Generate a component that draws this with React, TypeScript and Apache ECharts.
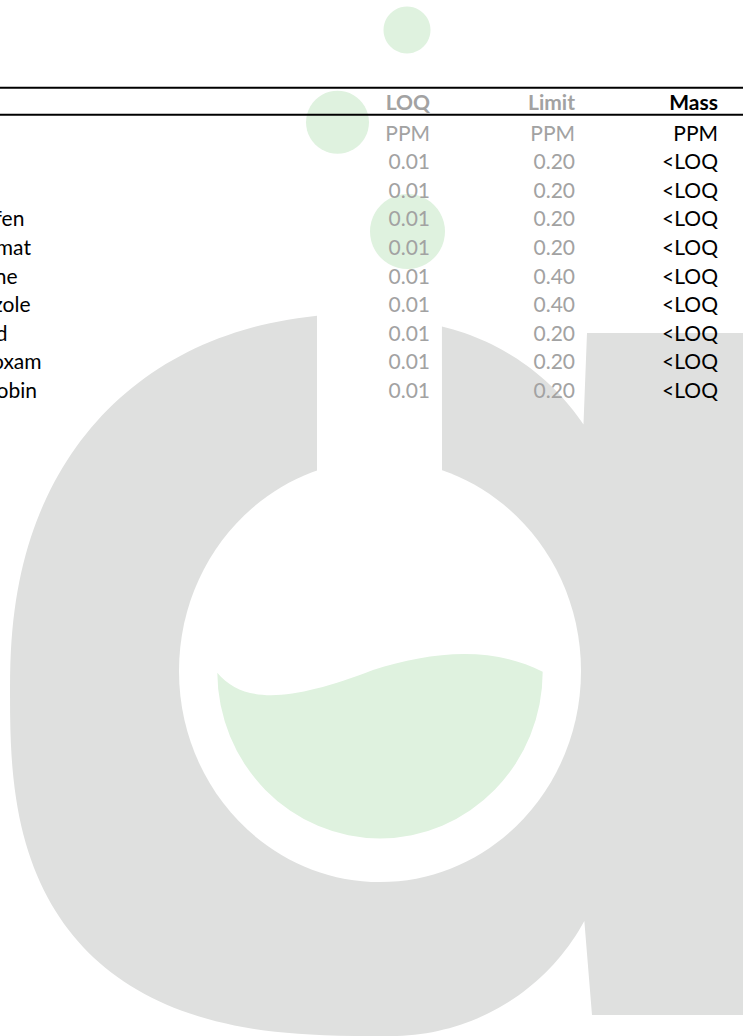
import React, { useEffect, useRef } from "react";
import * as echarts from "echarts";

// ---- table data ----
const headers = ["LOQ", "Limit", "Mass"];
const units = ["PPM", "PPM", "PPM"];
const analytes = [
  "Pyridaben",
  "Spinosad",
  "Spiromesifen",
  "Spirotetramat",
  "Spiroxamine",
  "Tebuconazole",
  "Thiacloprid",
  "Thiamethoxam",
  "Trifloxystrobin",
];
const loqValues = [0.01, 0.01, 0.01, 0.01, 0.01, 0.01, 0.01, 0.01, 0.01];
const limitValues = [0.2, 0.2, 0.2, 0.2, 0.4, 0.4, 0.2, 0.2, 0.2];
const massValues = ["<LOQ", "<LOQ", "<LOQ", "<LOQ", "<LOQ", "<LOQ", "<LOQ", "<LOQ", "<LOQ"];

const rowKeys = ["units", ...analytes];

const GRAY = "#dfe0df";
const GREEN = "#dff2df";
const TEXT_GRAY = "#a2a2a2";
const FONT = "Lato, 'Noto Sans', sans-serif";
const FS = 21;

const LIQUID_D =
  "M217.3 672.7 C245 706 295 700 373 670 C430 652 490 645 542.7 671.7 A163 167 0 0 1 380 838.5 A163 167 0 0 1 217.3 672.7 Z";

function logoOutline(): number[][] {
  const pts: number[][] = [];
  const cx = 380, cy = 690, rx = 370, ryTop = 377, ryBot = 346, nTop = 2.3, nBot = 2.7;
  const t0 = Math.acos(Math.pow(63 / rx, nTop / 2));
  const N = 60;
  for (let k = 0; k <= N; k++) {
    const t = t0 * (1 - k / N);
    pts.push([
      cx - rx * Math.pow(Math.cos(t), 2 / nTop),
      cy - ryTop * Math.pow(Math.sin(t), 2 / nTop),
    ]);
  }
  for (let k = 1; k <= N; k++) {
    const t = (Math.PI / 2) * (k / N);
    pts.push([
      cx - rx * Math.pow(Math.cos(t), 2 / nBot),
      cy + ryBot * Math.pow(Math.sin(t), 2 / nBot),
    ]);
  }
  // bottom-right arc up to the stem
  for (let k = 0; k <= 40; k++) {
    const a = ((90 - (90 - 28.5) * (k / 40)) * Math.PI) / 180;
    pts.push([391 + 220 * Math.cos(a), 816 + 220 * Math.sin(a)]);
  }
  pts.push([592, 1015]);
  pts.push([743, 1015]);
  pts.push([743, 333]);
  pts.push([587, 333]);
  // top-right shoulder arc
  for (let k = 0; k <= 30; k++) {
    const a = ((-34 - (76.6 - 34) * (k / 30)) * Math.PI) / 180;
    pts.push([387 + 237 * Math.cos(a), 557 + 237 * Math.sin(a)]);
  }
  pts.push([442, 480]);
  pts.push([317, 480]);
  return pts;
}

export default function App() {
  const ref = useRef<HTMLDivElement>(null);

  useEffect(() => {
    document.body.style.margin = "0";
    document.body.style.overflow = "hidden";
    if (!ref.current) return;
    echarts.graphic.registerShape("liquid", echarts.graphic.extendPath(LIQUID_D, {}));
    const chart = echarts.init(ref.current, null, { renderer: "svg" });

    const txt = (text: string, x: number, y: number, align: string, fill: string, weight = "normal") => ({
      type: "text",
      x,
      y,
      style: {
        text,
        align,
        textAlign: align,
        verticalAlign: "middle",
        textVerticalAlign: "middle",
        fill,
        fontSize: FS,
        fontFamily: FONT,
        fontWeight: weight,
      },
    });

    const colX = [430, 575, 718];
    const nameX = -95;

    chart.setOption({
      animation: false,
      backgroundColor: "#ffffff",
      grid: { left: 0, right: 0, top: 117.7, height: 286, containLabel: false },
      xAxis: { type: "value", min: 0, max: 743, show: false },
      yAxis: { type: "category", data: rowKeys, inverse: true, show: false },
      graphic: [
        { type: "polygon", z: 0, shape: { points: logoOutline() }, style: { fill: GRAY } },
        { type: "ellipse", z: 1, shape: { cx: 380, cy: 671, rx: 201, ry: 211 }, style: { fill: "#ffffff" } },
        { type: "liquid", z: 2, x: 0, y: 0, scaleX: 1, scaleY: 1, style: { fill: GREEN } },
        { type: "circle", z: 2, shape: { cx: 407, cy: 30, r: 23.5 }, style: { fill: GREEN } },
        { type: "circle", z: 2, shape: { cx: 337.5, cy: 122.3, r: 31.5 }, style: { fill: GREEN } },
        { type: "circle", z: 2, shape: { cx: 407.5, cy: 231.5, r: 37.5 }, style: { fill: GREEN } },
        { type: "rect", z: 100, shape: { x: 0, y: 86.7, width: 743, height: 2 }, style: { fill: "#000" } },
        { type: "rect", z: 100, shape: { x: 0, y: 113.7, width: 743, height: 2 }, style: { fill: "#000" } },
        txt(headers[0], colX[0], 101.5, "right", TEXT_GRAY, "bold"),
        txt(headers[1], colX[1], 101.5, "right", TEXT_GRAY, "bold"),
        txt(headers[2], colX[2], 101.5, "right", "#000000", "bold"),
      ].map((e: any) => (e.type === "text" ? { ...e, z: 100 } : e)),
      series: [
        {
          type: "custom",
          z: 50,
          silent: true,
          data: rowKeys.map((_, i) => [0, i]),
          renderItem: (params: any, api: any) => {
            const i = params.dataIndex;
            const y = api.coord([0, i])[1];
            if (i === 0) {
              return {
                type: "group",
                children: [
                  txt(units[0], colX[0], y, "right", TEXT_GRAY),
                  txt(units[1], colX[1], y, "right", TEXT_GRAY),
                  txt(units[2], colX[2], y, "right", "#000000"),
                ],
              };
            }
            const r = i - 1;
            return {
              type: "group",
              children: [
                txt(analytes[r], nameX, y, "left", "#000000"),
                txt(loqValues[r].toFixed(2), colX[0], y, "right", TEXT_GRAY),
                txt(limitValues[r].toFixed(2), colX[1], y, "right", TEXT_GRAY),
                txt(massValues[r], colX[2], y, "right", "#000000"),
              ],
            };
          },
        },
      ],
    });

    return () => chart.dispose();
  }, []);

  return <div ref={ref} style={{ width: "743px", height: "1036px" }} />;
}
